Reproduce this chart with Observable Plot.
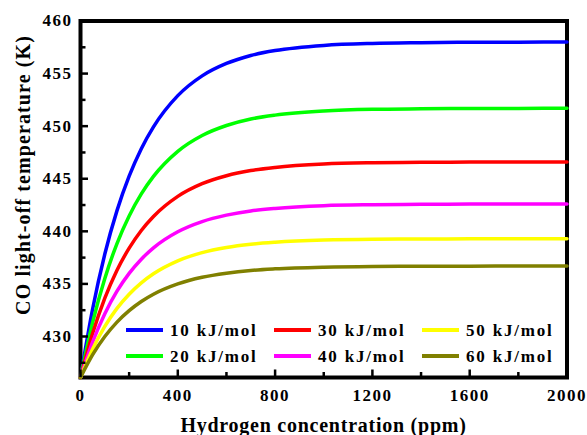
<!DOCTYPE html>
<html><head><meta charset="utf-8">
<script src="https://cdn.jsdelivr.net/npm/d3@7"></script>
<script src="https://cdn.jsdelivr.net/npm/@observablehq/plot@0.6"></script>
<style>body{margin:0;background:#fff;}</style>
</head><body><div id="chart"></div>
<script>
// Hydrogen concentration (ppm)
const xs = [0, 50, 100, 150, 200, 250, 300, 400, 500, 600, 700, 800, 1000, 1200, 1400, 1600, 1800, 2000];
const names = ["10 kJ/mol", "20 kJ/mol", "30 kJ/mol", "40 kJ/mol", "50 kJ/mol", "60 kJ/mol"];
const colors = ["#0000ff", "#00ff00", "#ff0000", "#ff00ff", "#ffff00", "#808000"];
// CO light-off temperature (K)
const t10 = [426.1, 432.64, 437.84, 441.97, 445.24, 447.86, 449.93, 452.90, 454.78, 455.96, 456.72, 457.19, 457.68, 457.87, 457.94, 457.98, 457.99, 458.0];
const t20 = [426.1, 431.35, 435.52, 438.84, 441.46, 443.56, 445.22, 447.60, 449.11, 450.06, 450.68, 451.05, 451.44, 451.60, 451.65, 451.68, 451.69, 451.7];
const t30 = [426.1, 430.30, 433.64, 436.30, 438.40, 440.08, 441.41, 443.32, 444.53, 445.29, 445.78, 446.08, 446.40, 446.52, 446.56, 446.59, 446.60, 446.6];
const t40 = [426.1, 429.48, 432.17, 434.31, 436.00, 437.35, 438.43, 439.96, 440.93, 441.54, 441.94, 442.18, 442.44, 442.53, 442.57, 442.59, 442.60, 442.6];
const t50 = [426.1, 428.81, 430.96, 432.67, 434.02, 435.10, 435.96, 437.19, 437.97, 438.46, 438.77, 438.96, 439.17, 439.25, 439.27, 439.29, 439.30, 439.3];
const t60 = [426.1, 428.27, 430.00, 431.37, 432.46, 433.33, 434.02, 435.00, 435.63, 436.02, 436.28, 436.43, 436.59, 436.66, 436.68, 436.69, 436.70, 436.7];
const xMajor = [0, 400, 800, 1200, 1600, 2000];
const xMinor = [200, 600, 1000, 1400, 1800];
const yMajor = [430, 435, 440, 445, 450, 455, 460];
const yMinor = [427.5, 432.5, 437.5, 442.5, 447.5, 452.5, 457.5];

const seriesValues = [t10, t20, t30, t40, t50, t60];
const rows = names.flatMap((name, i) => xs.map((x, j) => ({series: name, x, y: seriesValues[i][j]})));

const fontFamily = "'Liberation Serif', 'Times New Roman', Times, serif";
const fmt = d => String(d);

const W = 587, H = 435, mL = 80, mR = 20.5, mT = 20.5, mB = 58;
const frameW = W - mL - mR, frameH = H - mT - mB;

const chart = Plot.plot({
  width: W, height: H,
  marginLeft: mL, marginRight: mR, marginTop: mT, marginBottom: mB,
  style: {fontFamily, fontWeight: "bold", fontSize: "17px", letterSpacing: "1.5px", background: "#fff", color: "#000"},
  x: {domain: [0, 2000]},
  y: {domain: [426.1, 460]},
  color: {domain: names, range: colors},
  marks: [
    Plot.frame({stroke: "#000", strokeWidth: 4}),
    Plot.line(rows, {x: "x", y: "y", stroke: "series", strokeWidth: 3.5, curve: "monotone-x"}),
    // inward ticks
    Plot.tickX(xMajor, {x: d => d, insetTop: frameH - 7.5, stroke: "#000", strokeWidth: 2.5}),
    Plot.tickX(xMinor, {x: d => d, insetTop: frameH - 5, stroke: "#000", strokeWidth: 2.5}),
    Plot.tickY(yMajor, {y: d => d, insetRight: frameW - 8, stroke: "#000", strokeWidth: 2.5}),
    Plot.tickY(yMinor, {y: d => d, insetRight: frameW - 5.5, stroke: "#000", strokeWidth: 2.5}),
    Plot.axisX({ticks: xMajor, tickSize: 0, tickPadding: 11, tickFormat: fmt, label: null}),
    Plot.axisY({ticks: yMajor, tickSize: 0, tickPadding: 8, tickFormat: fmt, label: null})
  ]
});
document.getElementById("chart").appendChild(chart);

const svg = d3.select(chart);
function addText(sel) {
  return sel.style("font-family", fontFamily).style("font-weight", "bold").attr("fill", "#000");
}
// axis titles
addText(svg.append("text"))
  .attr("x", 323.5).attr("y", 431.5)
  .attr("text-anchor", "middle")
  .style("font-size", "20px").style("letter-spacing", "0.75px")
  .text("Hydrogen concentration (ppm)");
addText(svg.append("text"))
  .attr("transform", "translate(30,175) rotate(-90)")
  .attr("text-anchor", "middle")
  .style("font-size", "20px").style("letter-spacing", "1.1px")
  .text("CO light-off temperature (K)");

// legend: 3 columns x 2 rows, column-major
const colX = [126, 274, 422];
const rowY = [330, 356];
const lg = svg.append("g");
names.forEach((name, i) => {
  const c = Math.floor(i / 2), r = i % 2;
  lg.append("line")
    .attr("x1", colX[c]).attr("x2", colX[c] + 37)
    .attr("y1", rowY[r]).attr("y2", rowY[r])
    .attr("stroke", colors[i]).attr("stroke-width", 4);
  addText(lg.append("text"))
    .attr("x", colX[c] + 44).attr("y", rowY[r] + 6)
    .attr("text-anchor", "start")
    .style("font-size", "17px").style("letter-spacing", "1.8px")
    .text(name);
});
</script>
</body></html>
